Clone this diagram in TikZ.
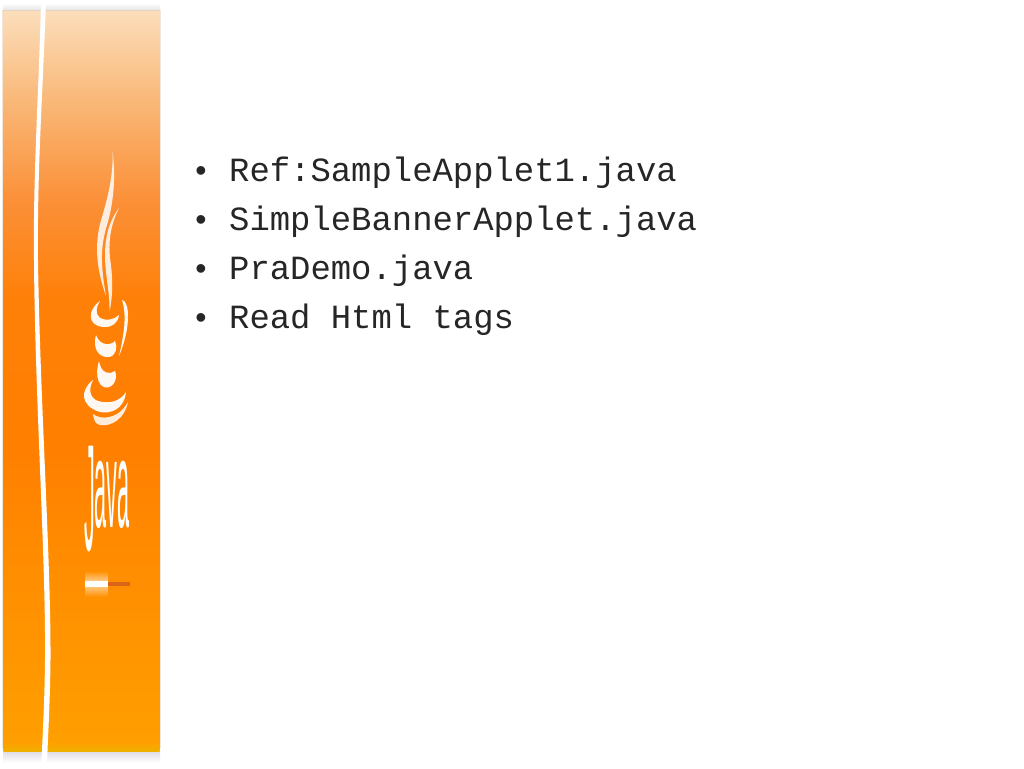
\documentclass[tikz,border=0pt]{standalone}
\usepackage{fontspec}
\usepackage{graphicx}
\setmainfont{Liberation Sans}
\newfontfamily\codefont{Liberation Mono}
\definecolor{stopA}{HTML}{FF9F00}
\definecolor{stopB}{HTML}{FF9000}
\definecolor{stopC}{HTML}{FF7F00}
\definecolor{stopD}{HTML}{FF8008}
\definecolor{stopE}{HTML}{FB9038}
\definecolor{stopF}{HTML}{F9B878}
\definecolor{stopG}{HTML}{FCDDBA}
\definecolor{edgetop}{HTML}{E6D3C0}
\definecolor{edgeside}{HTML}{F2E6DA}
\definecolor{edgebottom}{HTML}{DDD8E4}
\definecolor{bandbottom}{HTML}{F0B000}
\definecolor{barpart}{HTML}{D9641A}
\definecolor{glowmid}{HTML}{FFE0B8}
\pgfdeclareverticalshading{panelshade}{100bp}{%
  color(0bp)=(stopA); color(25bp)=(stopA); color(35.4bp)=(stopB);
  color(45.5bp)=(stopC); color(55.5bp)=(stopD); color(62.2bp)=(stopE);
  color(69bp)=(stopF); color(75bp)=(stopG); color(100bp)=(stopG)}
\tikzset{
  bullettext/.style={anchor=base west,inner sep=0pt,font=\codefont\fontsize{33.9}{40}\selectfont,text=black!85},
  bulletmark/.style={anchor=base,inner sep=0pt,font=\fontsize{32}{36}\selectfont,text=black!85},
  glyph/.style={fill=white,draw=none,opacity=.95},
  softglyph/.style={fill=white,draw=none,opacity=.85}
}
\begin{document}
\begin{tikzpicture}[x=1pt,y=-1pt]
\useasboundingbox (0,0) rectangle (1024,768);
\fill[white] (0,0) rectangle (1024,768);
% soft shadow around the panel
\shade[top color=white,bottom color=black!10] (3,3) rectangle (160,10);
\fill[edgeside] (2,10) rectangle (161,748);
\shade[top color=edgebottom,bottom color=white] (3,750) rectangle (160,763);
\fill[edgetop] (3,10) rectangle (160,13);
% panel
\shade[shading=panelshade] (3.5,12) rectangle (159.5,748);
\shade[top color=stopA,bottom color=bandbottom] (3.5,742) rectangle (159.5,751);
% white stripe
\fill[white] (41,0) .. controls (39,90) and (33,170) .. (34,260)
  .. controls (35,400) and (46,560) .. (45,660) .. controls (44.5,710) and (42,740) .. (41.5,768)
  -- (47,768) .. controls (47.5,740) and (50,710) .. (50.5,660)
  .. controls (51,560) and (40,400) .. (38,260) .. controls (37,170) and (43,90) .. (46,0) -- cycle;
% steam
\fill[softglyph] (112.7,152) .. controls (116,180) and (113,205) .. (107,225)
  .. controls (101,245) and (100,262) .. (106,296) .. controls (96,268) and (95,245) .. (100,224)
  .. controls (107,200) and (113,180) .. (112.7,152) -- cycle;
\fill[softglyph] (119,208) .. controls (112,222) and (108,238) .. (110,258)
  .. controls (113,278) and (113,295) .. (109.5,312) .. controls (110,292) and (105,275) .. (105,255)
  .. controls (105,235) and (110,220) .. (119,208) -- cycle;
% cup
\fill[glyph] (100,301) .. controls (88,309) and (86,326) .. (104,327)
  .. controls (112,327.5) and (118,323) .. (119,315) .. controls (114,320) and (106,321) .. (100,318)
  .. controls (95,314) and (96,307) .. (100,301) -- cycle;
\fill[glyph] (122,300) .. controls (130,301) and (131,328) .. (119,356)
  .. controls (124,335) and (127,315) .. (122,300) -- cycle;
\fill[glyph] (96,335) .. controls (92,350) and (100,358) .. (109,357)
  .. controls (116,356) and (118,347) .. (115,341) .. controls (112,345) and (100,347) .. (96,335) -- cycle;
\fill[glyph] (99,361) .. controls (94,378) and (100,388) .. (107,387.5)
  .. controls (114,387) and (118,378) .. (115,371) .. controls (110,375) and (101,374) .. (99,361) -- cycle;
\fill[glyph] (93,380) .. controls (80,390) and (80,406) .. (100,412)
  .. controls (110,414) and (124,410) .. (126,392) .. controls (120,402) and (108,404) .. (98,401)
  .. controls (90,398) and (88,390) .. (93,380) -- cycle;
\fill[softglyph] (128,402) .. controls (125,418) and (112,427) .. (100,425)
  .. controls (95,424) and (94,420) .. (93,414) .. controls (100,420) and (118,420) .. (128,402) -- cycle;
% logotype
\node[anchor=base west,inner sep=0pt,text=white,xscale=.47,yscale=2.68,font=\fontsize{46}{50}\selectfont] (logo) at (84,527) {\raisebox{-8.6pt}{\scalebox{1}[1.23]{J}}ava};
% bar
\shade[top color=stopB,bottom color=glowmid,opacity=.9] (85,571) rectangle (108,583);
\shade[top color=glowmid,bottom color=stopB,opacity=.9] (85,583) rectangle (108,597);
\fill[white] (85,581) rectangle (108,586.5);
\fill[barpart] (108,581.5) rectangle (130,585.5);
% bullets
\node[bulletmark] (b1) at (201,181) {•};
\node[bulletmark] (b2) at (201,230) {•};
\node[bulletmark] (b3) at (201,279) {•};
\node[bulletmark] (b4) at (201,328) {•};
\node[bullettext] (t1) at (229,181) {Ref:SampleApplet1.java};
\node[bullettext] (t2) at (229,230) {SimpleBannerApplet.java};
\node[bullettext] (t3) at (229,279) {PraDemo.java};
\node[bullettext] (t4) at (229,328) {Read Html tags};
\end{tikzpicture}
\end{document}
